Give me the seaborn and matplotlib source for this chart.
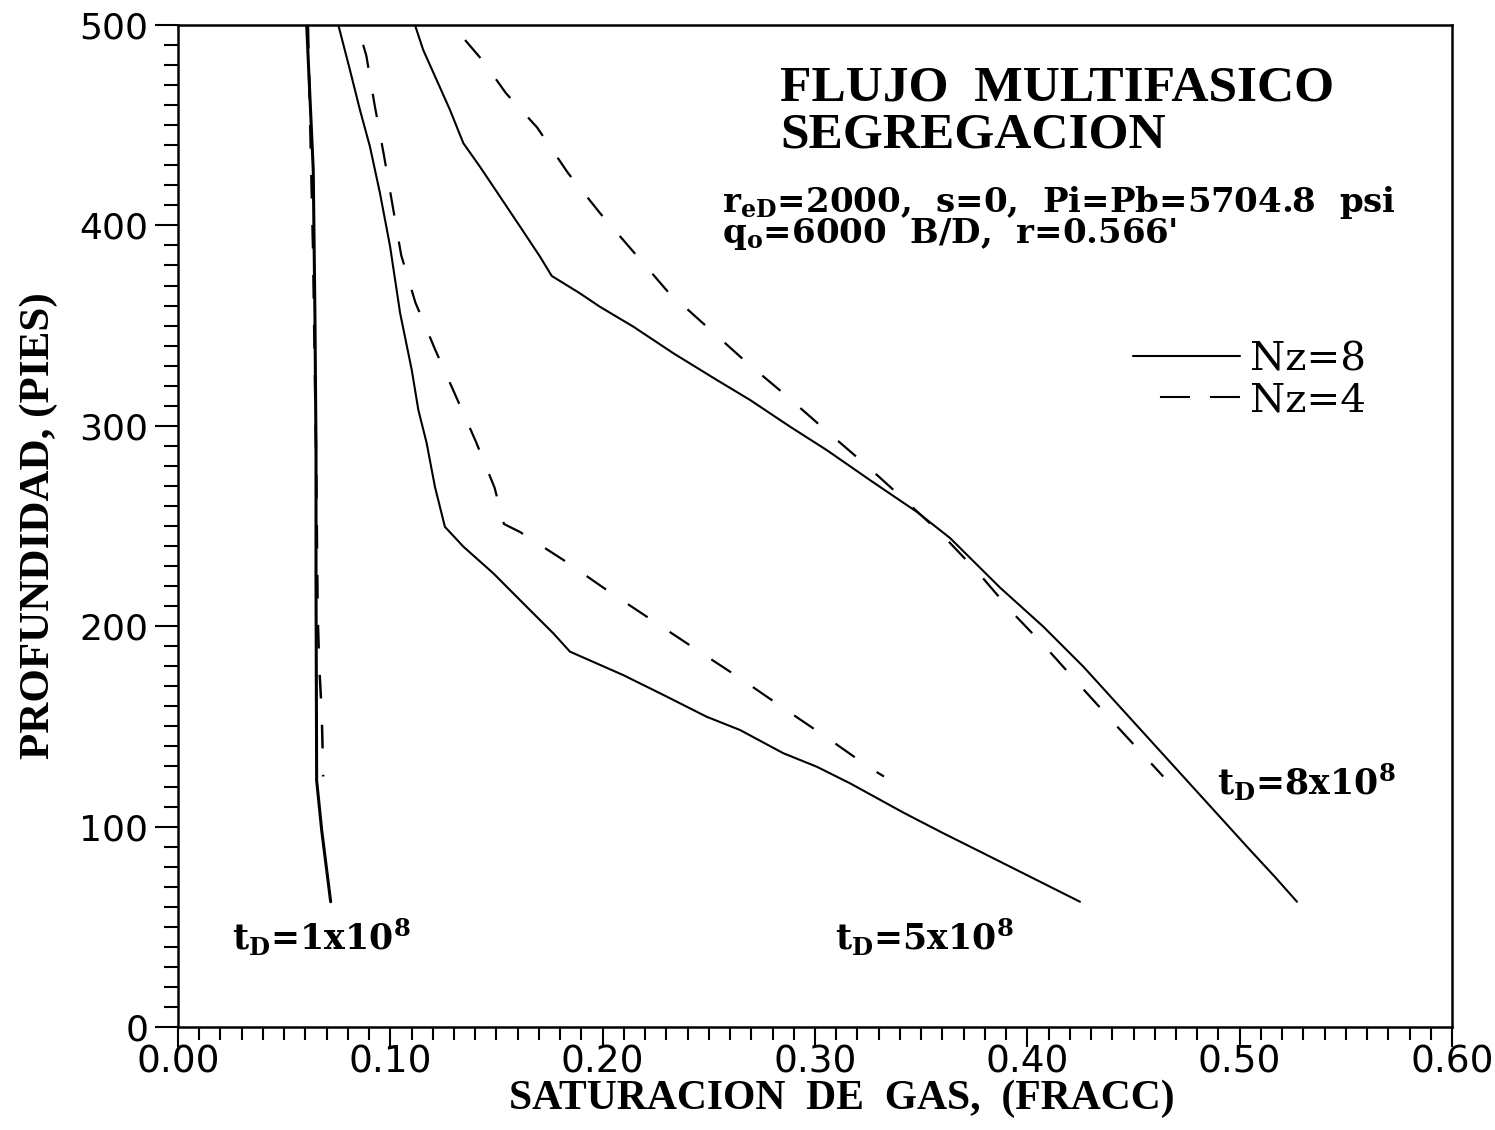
import matplotlib
matplotlib.use("Agg")
import matplotlib.pyplot as plt
import seaborn as sns
import pandas as pd
from matplotlib.lines import Line2D
from matplotlib.ticker import MultipleLocator, FormatStrFormatter

# ---------------- data ----------------
# t_D = 1x10^8, Nz = 8 (solid)
td1_nz8_sat = [0.0606, 0.0637, 0.0645, 0.0650, 0.0650, 0.0653, 0.0677, 0.0719]
td1_nz8_depth = [500, 427.6, 354, 288, 223, 123, 98, 62.5]

# t_D = 5x10^8, Nz = 8 (solid)
td5_nz8_sat = [0.0755, 0.0810, 0.0857, 0.0904, 0.0951, 0.0999, 0.1046, 0.1101,
               0.1132, 0.1171, 0.1210, 0.1257, 0.1344, 0.1485, 0.1642, 0.1768,
               0.1846, 0.2097, 0.2286, 0.2490, 0.2647, 0.2851, 0.3008, 0.3165,
               0.3416, 0.3604, 0.3793, 0.3981, 0.4169, 0.4248]
td5_nz8_depth = [500, 477.5, 457.6, 439.3, 416.2, 389.4, 356.3, 327.8,
                 307.9, 291.4, 269.6, 249.6, 239.7, 226.4, 209.7, 196.4,
                 187.3, 175.6, 165.7, 154.8, 148.2, 136.6, 129.9, 121.6,
                 107.0, 96.7, 86.7, 76.7, 66.7, 62.5]

# t_D = 8x10^8, Nz = 8 (solid)
td8_nz8_sat = [0.1116, 0.1155, 0.1218, 0.1281, 0.1344, 0.1422, 0.1517, 0.1611,
               0.1705, 0.1760, 0.1893, 0.1987, 0.2144, 0.2333, 0.2537, 0.2694,
               0.2882, 0.3055, 0.3259, 0.3479, 0.3636, 0.3871, 0.4075, 0.4264,
               0.4421, 0.4578, 0.4735, 0.4892, 0.5049, 0.5166, 0.5270]
td8_nz8_depth = [500, 487.5, 472.6, 457.6, 441.0, 429.3, 414.3, 399.4,
                 384.4, 374.8, 366.1, 359.4, 349.5, 336.2, 322.9, 312.9,
                 299.6, 287.9, 272.9, 257.1, 244.0, 219.3, 199.8, 179.8,
                 161.5, 143.2, 124.9, 106.6, 88.3, 74.9, 62.5]

# t_D = 1x10^8, Nz = 4 (dashed)
td1_nz4_sat = [0.0612, 0.0636, 0.0650, 0.0658, 0.0665, 0.0677, 0.0684]
td1_nz4_depth = [500, 387.7, 287.9, 205.6, 180.6, 156.7, 125]

# t_D = 5x10^8, Nz = 4 (dashed)
td5_nz4_sat = [0.0872, 0.0887, 0.0926, 0.0969, 0.1010, 0.1051, 0.1118, 0.1212,
               0.1306, 0.1403, 0.1491, 0.1535, 0.1611, 0.1823, 0.2028, 0.2234,
               0.2440, 0.2646, 0.2856, 0.3060, 0.3267, 0.3325]
td5_nz4_depth = [490.1, 484.7, 460.1, 435.5, 410.3, 385.2, 361.5, 337.8,
                 315.4, 292.1, 269.1, 251.0, 247.0, 232.5, 217.4, 202.9,
                 188.4, 174.1, 158.8, 144.1, 128.7, 125]

# t_D = 8x10^8, Nz = 4 (dashed)
td8_nz4_sat = [0.1352, 0.1435, 0.1545, 0.1691, 0.1837, 0.1990, 0.2141, 0.2308,
               0.2490, 0.2674, 0.2865, 0.3050, 0.3235, 0.3420, 0.3597, 0.3768,
               0.3930, 0.4095, 0.4260, 0.4427, 0.4640]
td8_nz4_depth = [492.5, 482.2, 465.9, 448.9, 426.1, 405.8, 387.3, 366.8,
                 349.5, 332.0, 315.0, 297.8, 280.9, 263.2, 245.9, 226.8,
                 206.8, 188.5, 169.0, 149.5, 125]

series_labels = ["Nz=8", "Nz=4"]
x_ticks = [0.0, 0.1, 0.2, 0.3, 0.4, 0.5, 0.6]
y_ticks = [0, 100, 200, 300, 400, 500]

# ---------------- style ----------------
sns.set_style("ticks")
plt.rcParams["font.family"] = ["DejaVu Sans"]
plt.rcParams["text.color"] = "black"
plt.rcParams["axes.labelcolor"] = "black"
plt.rcParams["xtick.color"] = "black"
plt.rcParams["ytick.color"] = "black"
plt.rcParams["mathtext.fontset"] = "custom"
plt.rcParams["mathtext.rm"] = "DejaVu Serif:bold"
plt.rcParams["mathtext.it"] = "DejaVu Serif:bold"
plt.rcParams["mathtext.bf"] = "DejaVu Serif:bold"
plt.rcParams["mathtext.default"] = "rm"
plt.rcParams["lines.scale_dashes"] = False

fig = plt.figure(figsize=(14.95, 11.3), dpi=100)
fig.patch.set_facecolor("white")
ax = fig.add_axes([0.11906, 0.09115, 0.85218, 0.88673])
ax.set_facecolor("white")

DASH = (0, (17, 19))
curves = [
    (td1_nz8_sat, td1_nz8_depth, "-", 2.2),
    (td5_nz8_sat, td5_nz8_depth, "-", 1.5),
    (td8_nz8_sat, td8_nz8_depth, "-", 1.5),
    (td1_nz4_sat, td1_nz4_depth, DASH, 1.8),
    (td5_nz4_sat, td5_nz4_depth, DASH, 1.6),
    (td8_nz4_sat, td8_nz4_depth, DASH, 1.6),
]
for sat, dep, ls, lw in curves:
    df = pd.DataFrame({"sat": sat, "depth": dep})
    sns.lineplot(data=df, x="sat", y="depth", sort=False, estimator=None,
                 color="black", linewidth=lw, linestyle=ls, ax=ax)

ax.set_xlim(0, 0.6)
ax.set_ylim(0, 500)
ax.set_xticks(x_ticks)
ax.set_yticks(y_ticks)
ax.xaxis.set_major_formatter(FormatStrFormatter("%.2f"))
ax.xaxis.set_minor_locator(MultipleLocator(0.01))
ax.yaxis.set_minor_locator(MultipleLocator(10))

for sp in ax.spines.values():
    sp.set_linewidth(1.8)
    sp.set_color("black")

ax.tick_params(axis="y", which="major", direction="out", length=16.5, width=1.5,
               labelsize=26, pad=5, colors="black", right=False)
ax.tick_params(axis="y", which="minor", direction="out", length=10, width=1.5,
               right=False)
ax.tick_params(axis="x", which="major", direction="out", length=14.5, width=1.5,
               labelsize=27, pad=-2, colors="black", top=False)
ax.tick_params(axis="x", which="minor", direction="out", length=9.5, width=1.5,
               top=False)
for lab in ax.get_xticklabels() + ax.get_yticklabels():
    lab.set_fontfamily("DejaVu Sans")

# axis labels
ax.set_xlabel("SATURACION  DE  GAS,  (FRACC)", fontsize=30, fontweight="bold",
              fontfamily="Liberation Serif")
ax.xaxis.set_label_coords(0.521, -0.052)
ax.set_ylabel("PROFUNDIDAD, (PIES)", fontsize=31, fontweight="bold",
              fontfamily="Liberation Serif")
ax.yaxis.set_label_coords(-0.094, 0.5)

# title block
ax.text(0.4725, 0.925, "FLUJO  MULTIFASICO", transform=ax.transAxes,
        fontsize=37, fontweight="bold", fontfamily="Liberation Serif",
        ha="left", va="baseline")
ax.text(0.4725, 0.878, "SEGREGACION", transform=ax.transAxes,
        fontsize=37, fontweight="bold", fontfamily="Liberation Serif",
        ha="left", va="baseline")
ax.text(0.427, 0.782,
        "r$_{eD}$=2000,  s=0,  Pi=Pb=5704.8  psi\n"
        "q$_{o}$=6000  B/D,  r=0.566'",
        transform=ax.transAxes, fontsize=24.5, fontweight="bold",
        fontfamily="DejaVu Serif", ha="left", va="baseline",
        linespacing=0.82)

# curve labels
lab_kw = dict(fontsize=25, fontweight="bold", fontfamily="DejaVu Serif",
              ha="left", va="baseline")
ax.text(0.0254, 38.4, r"t$_{D}$=1x10$^{8}$", **lab_kw)
ax.text(0.3094, 38.4, r"t$_{D}$=5x10$^{8}$", **lab_kw)
ax.text(0.4893, 115.8, r"t$_{D}$=8x10$^{8}$", **lab_kw)

# legend
handles = [Line2D([], [], color="black", linewidth=1.5, linestyle="-"),
           Line2D([], [], color="black", linewidth=1.5,
                  linestyle=(57.6, (21.6, 14.4, 21.6, 19.4)))]
leg = ax.legend(handles, series_labels, loc="upper left",
                bbox_to_anchor=(0.7496, 0.6846), frameon=False,
                prop={"family": "DejaVu Serif", "size": 29},
                handlelength=2.66, handletextpad=0.25, labelspacing=0.1,
                borderaxespad=0.0, borderpad=0.0)

fig.savefig("out.png", dpi=100, facecolor="white")
